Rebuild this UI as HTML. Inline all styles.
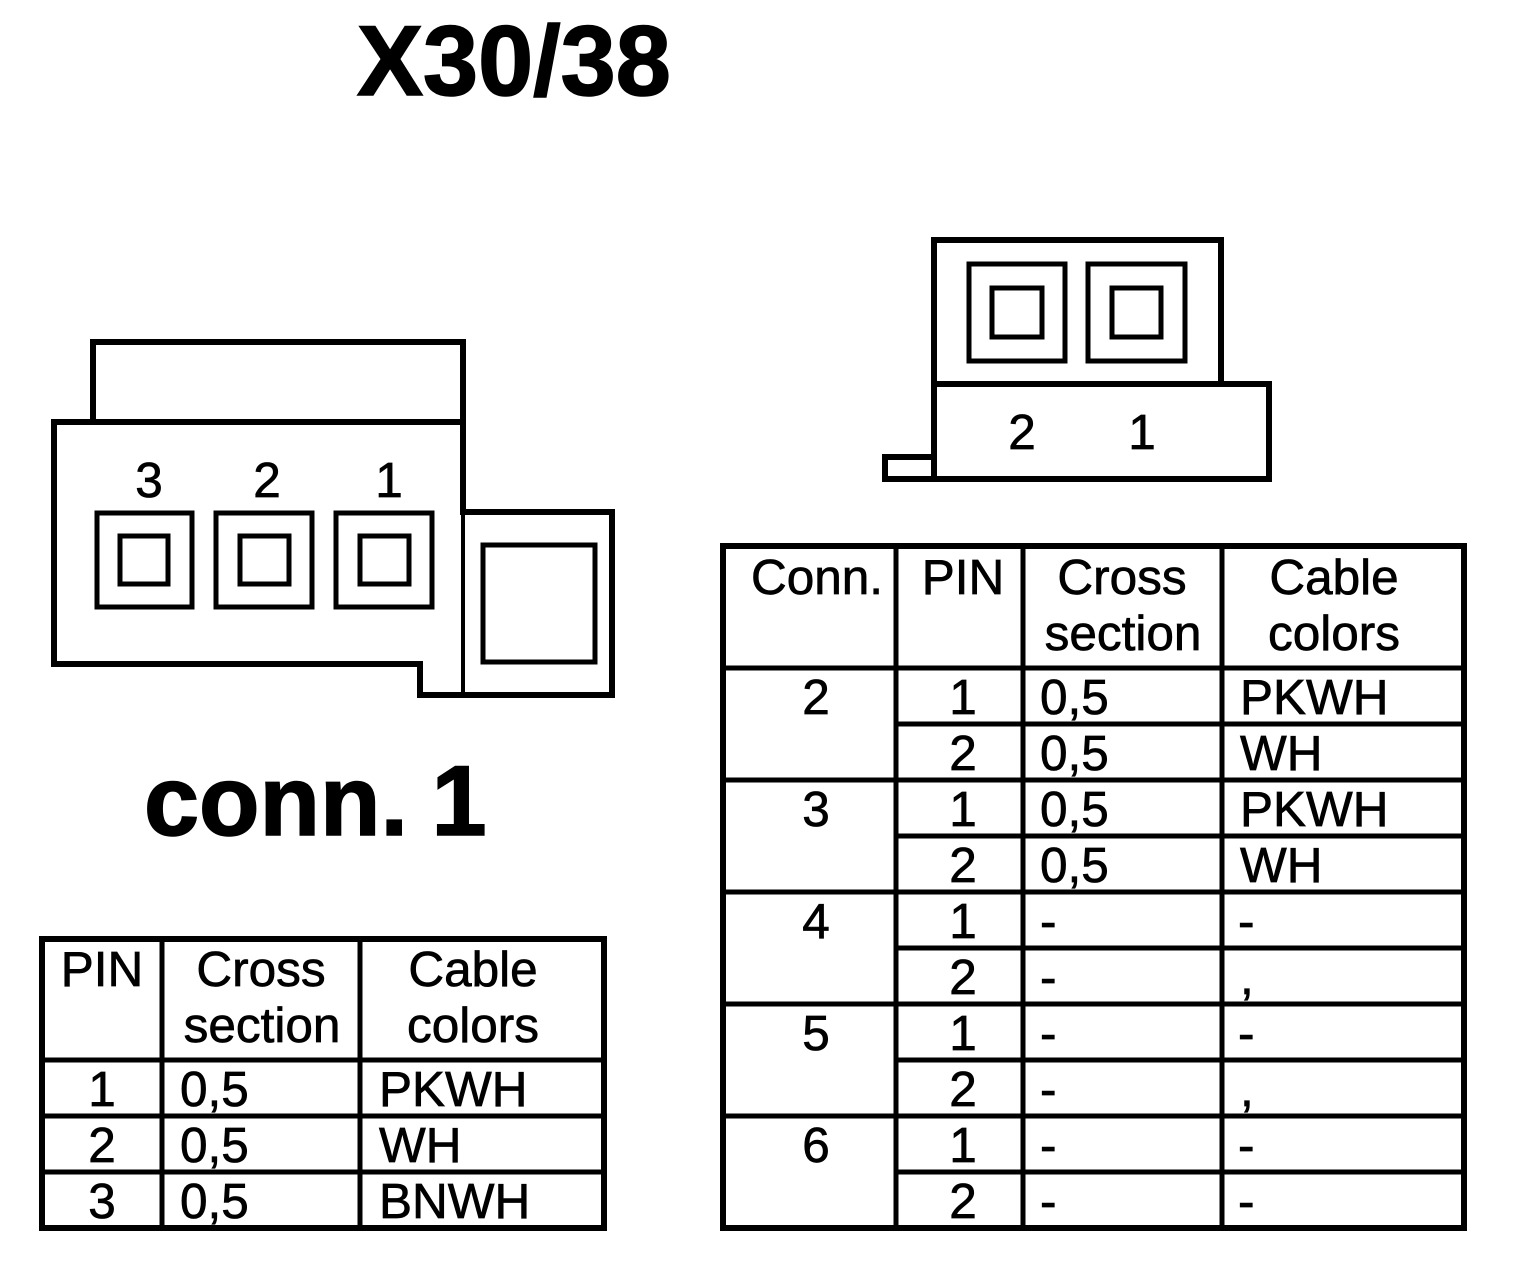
<!DOCTYPE html>
<html><head><meta charset="utf-8"><style>
html,body{margin:0;padding:0;background:#fff}
svg{display:block}
text{font-family:"Liberation Sans",Arial,sans-serif;fill:#000}
.t{font-size:49.5px;stroke:#000;stroke-width:.7px}
.m{text-anchor:middle}
.b{font-weight:bold;font-size:99px;stroke:#000;stroke-width:1.6px}
</style></head><body>
<svg width="1520" height="1262" viewBox="0 0 1520 1262" xmlns="http://www.w3.org/2000/svg">
<rect width="1520" height="1262" fill="#fff"/>
<text class="b" x="357" y="95">X30/38</text>
<text class="b" x="144" y="835" word-spacing="-4">conn. 1</text>

<g fill="none" stroke="#000" stroke-width="6" stroke-linejoin="miter">
<path d="M93 422V342H463V422"/>
<path d="M54 422H463V512H612V695H420V664H54Z"/>
<path d="M463 512V695" stroke-width="4"/>
<rect x="483" y="545" width="112" height="117" stroke-width="5"/>
<g stroke-width="5">
<rect x="97" y="513" width="95" height="94"/><rect x="216" y="513" width="96" height="94"/><rect x="336" y="513" width="96" height="94"/>
<rect x="120" y="536" width="48" height="48"/><rect x="240" y="536" width="49" height="48"/><rect x="360" y="536" width="49" height="48"/>
</g>
<path d="M934 479V240H1221V384H1269V479H885V457H934M934 384H1221"/>
<g stroke-width="5">
<rect x="969" y="264" width="96" height="97"/><rect x="1088" y="264" width="97" height="97"/>
<rect x="992" y="288" width="50" height="49"/><rect x="1112" y="288" width="49" height="49"/>
</g>
</g>
<g class="t">
<text class="m" x="149" y="497">3</text><text class="m" x="267" y="497">2</text><text class="m" x="389" y="497">1</text>
<text class="m" x="1022" y="449">2</text><text class="m" x="1142" y="449">1</text>
</g>

<g fill="none" stroke="#000">
<rect x="42" y="939" width="562" height="289" stroke-width="6"/>
<path d="M162 939V1228M360 939V1228" stroke-width="5"/>
<path d="M42 1060H604M42 1116H604M42 1172H604" stroke-width="5"/>
<rect x="723" y="546" width="741" height="682" stroke-width="6"/>
<path d="M896 546V1228M1023 546V1228M1222 546V1228" stroke-width="5"/>
<path d="M723 668H1464M723 780H1464M723 892H1464M723 1004H1464M723 1116H1464M896 724H1464M896 836H1464M896 948H1464M896 1060H1464M896 1172H1464" stroke-width="5"/>
</g>

<g class="t">
<text class="m" x="102" y="986">PIN</text>
<text class="m" x="261" y="986">Cross</text><text class="m" x="262" y="1042">section</text>
<text class="m" x="473" y="986">Cable</text><text class="m" x="473" y="1042">colors</text>
<text class="m" x="102" y="1106">1</text><text class="m" x="102" y="1162">2</text><text class="m" x="102" y="1218">3</text>
<text x="180" y="1106">0,5</text><text x="180" y="1162">0,5</text><text x="180" y="1218">0,5</text>
<text x="379" y="1106">PKWH</text><text x="379" y="1162">WH</text><text x="379" y="1218">BNWH</text>

<text class="m" x="817" y="594">Conn.</text>
<text class="m" x="963" y="594">PIN</text>
<text class="m" x="1122" y="594">Cross</text><text class="m" x="1123" y="650">section</text>
<text class="m" x="1334" y="594">Cable</text><text class="m" x="1334" y="650">colors</text>

<text class="m" x="816" y="714">2</text><text class="m" x="816" y="826">3</text><text class="m" x="816" y="938">4</text><text class="m" x="816" y="1050">5</text><text class="m" x="816" y="1162">6</text>

<text class="m" x="963" y="714">1</text><text class="m" x="963" y="770">2</text>
<text class="m" x="963" y="826">1</text><text class="m" x="963" y="882">2</text>
<text class="m" x="963" y="938">1</text><text class="m" x="963" y="994">2</text>
<text class="m" x="963" y="1050">1</text><text class="m" x="963" y="1106">2</text>
<text class="m" x="963" y="1162">1</text><text class="m" x="963" y="1218">2</text>

<text x="1040" y="714">0,5</text><text x="1040" y="770">0,5</text><text x="1040" y="826">0,5</text><text x="1040" y="882">0,5</text>
<text x="1040" y="938">-</text><text x="1040" y="994">-</text><text x="1040" y="1050">-</text><text x="1040" y="1106">-</text><text x="1040" y="1162">-</text><text x="1040" y="1218">-</text>

<text x="1240" y="714">PKWH</text><text x="1240" y="770">WH</text><text x="1240" y="826">PKWH</text><text x="1240" y="882">WH</text>
<text x="1238" y="938">-</text><text x="1240" y="994">,</text><text x="1238" y="1050">-</text><text x="1240" y="1106">,</text><text x="1238" y="1162">-</text><text x="1238" y="1218">-</text>
</g>
</svg>
</body></html>
